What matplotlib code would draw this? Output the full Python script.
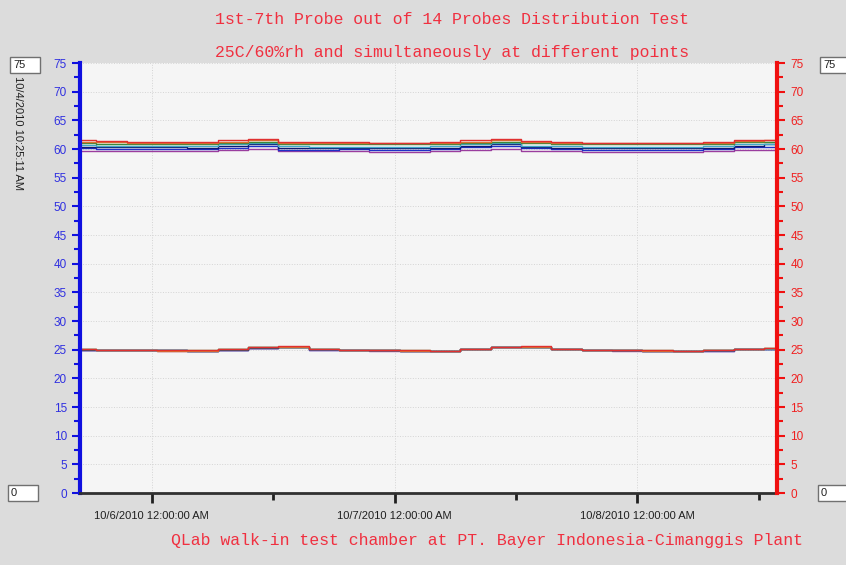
import datetime as dt
import matplotlib
matplotlib.use("Agg")
import matplotlib.dates as mdates
from matplotlib import pyplot as plt
from matplotlib.patches import Rectangle

# hours counted from 10/6/2010 00:00
hours = [-7, -4, -1, 2, 5, 8, 11, 14, 17, 20, 23, 26,
         29, 32, 35, 38, 41, 44, 47, 50, 53, 56, 59, 62]

probe_colors = ["#9a3d9e", "#2030c8", "#101a70", "#40a8c8", "#3a8a3a", "#d87030", "#e03030"]

# relative humidity probes (~60 %rh)
rh_purple = [59.7, 59.6, 59.6, 59.6, 59.6, 59.8, 60.0, 59.7, 59.6, 59.6, 59.5, 59.5,
             59.6, 59.8, 60.0, 59.7, 59.6, 59.5, 59.5, 59.5, 59.5, 59.6, 59.8, 59.9]
rh_blue = [60.1, 60.0, 60.0, 60.0, 60.0, 60.2, 60.5, 59.9, 59.9, 60.0, 59.9, 59.9,
           60.0, 60.3, 60.5, 60.1, 60.0, 59.9, 59.9, 59.9, 59.9, 60.0, 60.3, 60.4]
rh_navy = [60.4, 60.3, 60.3, 60.3, 60.2, 60.6, 60.9, 60.2, 60.1, 60.2, 60.1, 60.1,
           60.2, 60.6, 60.9, 60.3, 60.2, 60.1, 60.1, 60.1, 60.1, 60.2, 60.6, 60.8]
rh_teal = [60.7, 60.6, 60.6, 60.5, 60.5, 60.8, 61.0, 60.5, 60.4, 60.4, 60.4, 60.4,
           60.5, 60.8, 61.0, 60.6, 60.5, 60.4, 60.4, 60.4, 60.4, 60.5, 60.8, 60.9]
rh_green = [61.0, 60.9, 60.9, 60.9, 60.8, 61.1, 61.3, 60.9, 60.8, 60.8, 60.8, 60.8,
            60.9, 61.1, 61.3, 61.0, 60.9, 60.8, 60.8, 60.8, 60.8, 60.9, 61.2, 61.3]
rh_orange = [61.3, 61.2, 61.1, 61.1, 61.0, 61.3, 61.6, 61.1, 61.0, 61.0, 61.0, 61.0,
             61.1, 61.3, 61.5, 61.2, 61.1, 61.0, 61.0, 61.0, 61.0, 61.1, 61.4, 61.5]
rh_red = [61.5, 61.4, 61.3, 61.3, 61.2, 61.5, 61.8, 61.3, 61.2, 61.2, 61.1, 61.1,
          61.2, 61.5, 61.7, 61.4, 61.2, 61.1, 61.1, 61.1, 61.1, 61.2, 61.5, 61.6]

# temperature probes (~25 C)
t_purple = [25.0, 24.9, 24.9, 24.8, 24.8, 25.0, 25.3, 25.4, 25.0, 24.9, 24.8, 24.8,
            24.7, 25.1, 25.4, 25.4, 25.1, 24.9, 24.8, 24.8, 24.7, 24.8, 25.1, 25.2]
t_blue = [25.0, 24.9, 24.9, 24.9, 24.8, 25.0, 25.3, 25.4, 25.0, 24.9, 24.9, 24.8,
          24.8, 25.1, 25.4, 25.4, 25.1, 24.9, 24.9, 24.8, 24.8, 24.8, 25.1, 25.2]
t_navy = [25.0, 25.0, 24.9, 24.9, 24.8, 25.0, 25.3, 25.4, 25.1, 24.9, 24.9, 24.8,
          24.8, 25.1, 25.4, 25.4, 25.1, 24.9, 24.9, 24.8, 24.8, 24.9, 25.1, 25.2]
t_teal = [25.1, 25.0, 24.9, 24.9, 24.8, 25.1, 25.4, 25.4, 25.1, 25.0, 24.9, 24.8,
          24.8, 25.1, 25.4, 25.5, 25.1, 25.0, 24.9, 24.8, 24.8, 24.9, 25.2, 25.2]
t_green = [25.1, 25.0, 25.0, 24.9, 24.9, 25.1, 25.4, 25.4, 25.1, 25.0, 24.9, 24.9,
           24.8, 25.2, 25.4, 25.5, 25.2, 25.0, 24.9, 24.9, 24.8, 24.9, 25.2, 25.3]
t_orange = [25.1, 25.0, 24.9, 24.8, 24.8, 25.1, 25.4, 25.5, 25.1, 25.0, 24.9, 24.8,
            24.8, 25.2, 25.5, 25.5, 25.2, 25.0, 24.9, 24.8, 24.8, 24.9, 25.2, 25.3]
t_red = [25.1, 25.0, 25.0, 24.9, 24.9, 25.1, 25.5, 25.6, 25.1, 25.0, 24.9, 24.9,
         24.8, 25.2, 25.5, 25.6, 25.2, 25.0, 24.9, 24.9, 24.8, 24.9, 25.2, 25.3]

rh_series = [rh_purple, rh_blue, rh_navy, rh_teal, rh_green, rh_orange, rh_red]
t_series = [t_purple, t_blue, t_navy, t_teal, t_green, t_orange, t_red]

title1 = "1st-7th Probe out of 14 Probes Distribution Test"
title2 = "25C/60%rh and simultaneously at different points"
footer = "QLab walk-in test chamber at PT. Bayer Indonesia-Cimanggis Plant"

base = dt.datetime(2010, 10, 6)
times = [base + dt.timedelta(hours=h) for h in hours]
x_start = base + dt.timedelta(hours=-7.1)
x_end = base + dt.timedelta(hours=61.8)

W, H = 846, 565
fig = plt.figure(figsize=(W / 100, H / 100), dpi=100, facecolor="#dcdcdc")
ax = fig.add_axes([80 / W, 1 - 493 / H, 697 / W, 430 / H])
ax.set_facecolor("#f5f5f5")

for vals, c in zip(t_series, probe_colors):
    ax.plot(times, vals, color=c, lw=1.0, drawstyle="steps-mid")
for vals, c in zip(rh_series, probe_colors):
    ax.plot(times, vals, color=c, lw=1.0, drawstyle="steps-mid")

ax.set_xlim(x_start, x_end)
ax.set_ylim(0, 75)
ax.set_yticks(range(0, 76, 5))
ax.set_yticks([v + 2.5 for v in range(0, 75, 5)], minor=True)
ax.xaxis.set_major_locator(mdates.HourLocator(byhour=[0]))
ax.xaxis.set_minor_locator(mdates.HourLocator(byhour=[12]))
ax.xaxis.set_major_formatter(mdates.DateFormatter("%-m/%-d/%Y 12:00:00 AM"))
ax.grid(True, which="major", color="#d4d4d4", ls=":", lw=0.7)

ax.tick_params(axis="x", which="major", length=7, width=2, color="#202020",
               labelsize=8, labelcolor="#202020", pad=6)
ax.tick_params(axis="x", which="minor", length=5, width=2, color="#202020")
ax.tick_params(axis="y", which="major", length=6, width=1.5, color="#1010e0",
               labelsize=8.5, labelcolor="#3030e0")
ax.tick_params(axis="y", which="minor", length=4, width=1.5, color="#1010e0")

ax.spines["left"].set_color("#1010e0")
ax.spines["left"].set_linewidth(3)
ax.spines["bottom"].set_color("#303030")
ax.spines["bottom"].set_linewidth(2)
ax.spines["top"].set_visible(False)
ax.spines["right"].set_visible(False)

ax2 = ax.twinx()
ax2.set_ylim(0, 75)
ax2.set_yticks(range(0, 76, 5))
ax2.set_yticks([v + 2.5 for v in range(0, 75, 5)], minor=True)
ax2.tick_params(axis="y", which="major", length=6, width=1.5, color="#f01010",
                labelsize=8.5, labelcolor="#f02020")
ax2.tick_params(axis="y", which="minor", length=4, width=1.5, color="#f01010")
ax2.spines["right"].set_color("#f01010")
ax2.spines["right"].set_linewidth(3)
for s in ["left", "top", "bottom"]:
    ax2.spines[s].set_visible(False)

for lab in ax.get_yticklabels() + ax2.get_yticklabels() + ax.get_xticklabels():
    lab.set_fontfamily("Liberation Sans")

title_font = dict(family="Liberation Mono", size=11.9, color="#f03040")
fig.text(452 / W, 1 - 20 / H, title1, ha="center", va="center", **title_font)
fig.text(452 / W, 1 - 52 / H, title2, ha="center", va="center", **title_font)
fig.text(487 / W, 1 - 541 / H, footer, ha="center", va="center", **title_font)

fig.text(18 / W, 1 - 76 / H, "10/4/2010 10:25:11 AM", rotation=-90, ha="center", va="top",
         family="Liberation Sans", size=8, color="#202020")

# scale input boxes
for bx, by, bw, txt in [(10, 57, 30, "75"), (820, 57, 30, "75"),
                        (8, 485, 30, "0"), (818, 485, 30, "0")]:
    fig.add_artist(Rectangle((bx / W, 1 - (by + 16) / H), bw / W, 16 / H,
                             transform=fig.transFigure, facecolor="white",
                             edgecolor="#707070", lw=1))
    fig.text((bx + 3) / W, 1 - (by + 8) / H, txt, ha="left", va="center",
             family="Liberation Sans", size=8, color="#202020")

fig.savefig("out.png", dpi=100, facecolor=fig.get_facecolor())
